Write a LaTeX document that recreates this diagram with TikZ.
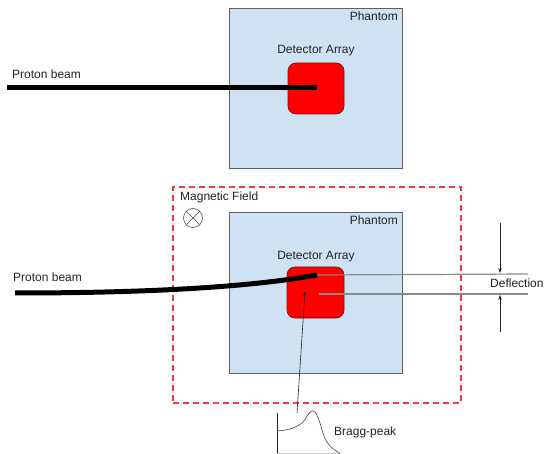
\documentclass[tikz,border=0pt]{standalone}
\usepackage{fontspec}
\setmainfont{Liberation Sans}
\usetikzlibrary{arrows.meta}
\definecolor{phfill}{HTML}{CFE2F3}
\definecolor{phborder}{HTML}{5F6368}
\definecolor{detborder}{HTML}{6B1A1A}
\definecolor{magred}{HTML}{F03C3C}
\definecolor{guidegray}{HTML}{8A8A8A}
\definecolor{txt}{HTML}{222222}
\begin{document}
\begin{tikzpicture}[x=1pt,y=-1pt,
  phantombox/.style={draw=phborder, fill=phfill, line width=0.8pt, minimum width=173pt, minimum height=160pt, inner sep=0pt},
  detbox/.style={draw=detborder, fill=red, line width=0.7pt, rounded corners=8pt, minimum width=56pt, minimum height=51pt, inner sep=0pt},
  lbl/.style={font=\fontsize{12}{14}\selectfont, inner sep=0pt, text=txt},
  beam/.style={line width=5pt, line cap=butt},
  guide/.style={draw=guidegray, line width=1.2pt},
  arr/.style={-{Stealth[length=5pt,width=3.5pt]}, line width=0.6pt, draw=txt},
  magbox/.style={draw=magred, line width=1.2pt, dash pattern=on 6pt off 4pt}]
\useasboundingbox (0,0) rectangle (546,454);

% ---------- top setup ----------
\node[phantombox] (ph1) at (315.5,88) {};
\node[detbox] (det1) at (316,88.5) {};
\node[lbl, anchor=east] (ph1lbl) at (398,16) {Phantom};
\node[lbl] (det1lbl) at (316,51) {Detector Array};
\node[lbl, anchor=west] (pb1lbl) at (12,74) {Proton beam};
\coordinate (b1start) at (7,88);
\coordinate (b1end) at (317,88);
\draw[beam] (b1start) -- (b1end);

% ---------- bottom setup ----------
\node[magbox, minimum width=288pt, minimum height=216pt, inner sep=0pt] (mag) at (317,295) {};
\node[lbl, anchor=west] (maglbl) at (180,197) {Magnetic Field};
\node[draw=txt!80, line width=0.6pt, circle, minimum size=19pt, inner sep=0pt] (otimes) at (193,218) {};
\draw[txt!80, line width=0.6pt] (otimes.north west) -- (otimes.south east);
\draw[txt!80, line width=0.6pt] (otimes.north east) -- (otimes.south west);

\node[phantombox, minimum height=161pt] (ph2) at (315.5,292.5) {};
\node[detbox, minimum width=57pt] (det2) at (315.5,292.5) {};
\node[lbl, anchor=east] (ph2lbl) at (398,220) {Phantom};
\node[lbl] (det2lbl) at (316,257) {Detector Array};
\node[lbl, anchor=west] (pb2lbl) at (13,277) {Proton beam};

\coordinate (b2start) at (15,293);
\coordinate (b2end) at (317,275);
\coordinate (detc) at (319,294);
\coordinate (defl1) at (528,274);
\coordinate (defl2) at (528,294);

% deflection guide lines
\draw[guide] (b2end) -- (defl1);
\draw[guide] (detc) -- (defl2);

% curved beam
\draw[beam] (b2start) .. controls (150,293) and (250,287) .. (b2end);

% deflection arrows
\coordinate (a1s) at (500,223);
\coordinate (a1e) at (500,273);
\coordinate (a2s) at (500,332);
\coordinate (a2e) at (500,295);
\draw[arr] (a1s) -- (a1e);
\draw[arr] (a2s) -- (a2e);
\node[lbl, anchor=west] (defllbl) at (490,283) {Deflection};

% Bragg peak plot
\coordinate (bragg) at (297,413);
\coordinate (braggtip) at (305,291);
\draw[arr] (bragg) -- (braggtip);
\draw[txt, line width=0.7pt] (277,413) -- (277,454);
\draw[gray!40, line width=0.6pt] (277,453) -- (340,453);
\draw[txt!85, line width=0.6pt] plot[smooth, tension=0.6] coordinates {(277,431) (290,429) (302,423) (307,416) (311,411.5) (315,412) (319,420) (324,436) (330,446) (340,453.5)};
\node[lbl, anchor=west] (bragglbl) at (334,432) {Bragg-peak};
\end{tikzpicture}
\end{document}
